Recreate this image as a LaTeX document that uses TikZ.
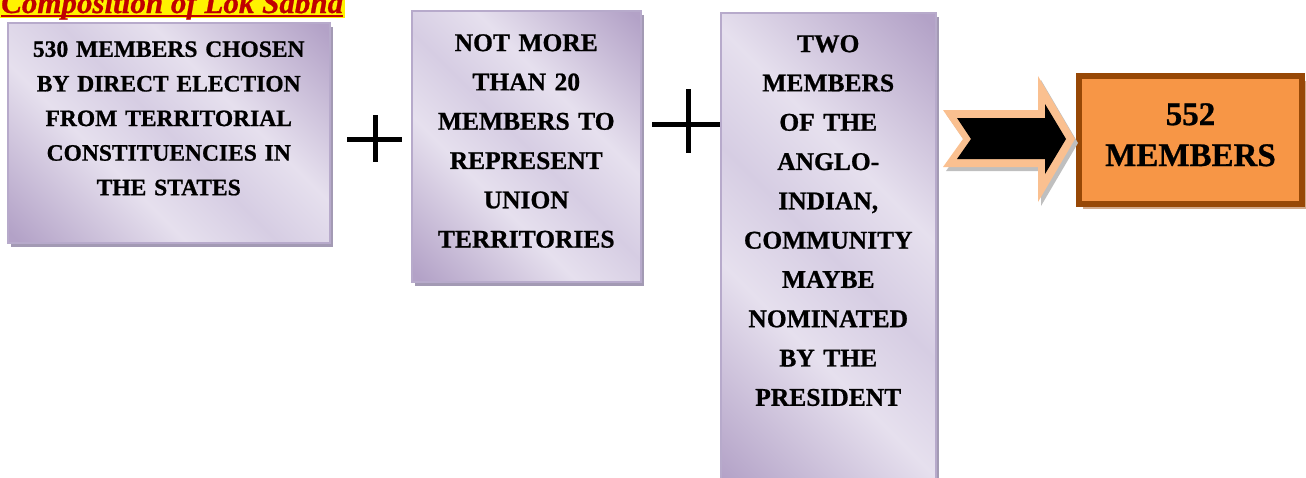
\documentclass[tikz,border=0pt]{standalone}
\usepackage{fontspec}
\setmainfont{Liberation Serif}[BoldFeatures={FakeBold=0.8}, BoldItalicFeatures={FakeBold=0.8}]
\usetikzlibrary{positioning,calc,shadows,backgrounds}

\definecolor{lavdark}{HTML}{B3A2C7}
\definecolor{lavlight}{HTML}{E6E0EE}
\definecolor{lavmid}{HTML}{D6CDE3}
\definecolor{lavline}{HTML}{B7AACB}
\definecolor{lavshadow}{HTML}{A39AB4}
\definecolor{peach}{HTML}{FAC090}
\definecolor{sumfill}{HTML}{F79646}
\definecolor{sumline}{HTML}{974806}
\definecolor{sumshadow}{HTML}{D2AA8C}
\definecolor{titlered}{HTML}{C00000}

\pgfdeclarehorizontalshading{lavender}{100bp}{color(0bp)=(lavdark); color(16bp)=(lavdark); color(38bp)=(lavlight); color(50bp)=(lavmid); color(62bp)=(lavlight); color(84bp)=(lavdark); color(100bp)=(lavdark)}

\begin{document}
\begin{tikzpicture}[
    x=1pt, y=-1pt,
    lbox/.style={rectangle, draw=lavline, line width=1.5pt, shade, shading=lavender, shading angle=45, anchor=north west,
        drop shadow={shadow xshift=3pt, shadow yshift=-4pt, fill=lavshadow, opacity=1}},
    ltext/.style={text width=#1, align=center, inner sep=0pt, font=\bfseries\fontsize{25.5}{39.3}\selectfont},
    sumbox/.style={rectangle, fill=sumfill, draw=sumline, line width=6pt, anchor=north west,
        drop shadow={shadow xshift=4pt, shadow yshift=-5pt, fill=sumshadow, opacity=1}},
    sumtext/.style={text width=220pt, align=center, inner sep=0pt, font=\bfseries\fontsize{33}{41}\selectfont},
    plussign/.style={line width=5pt}
]
    \useasboundingbox (0,0) rectangle (1306,477);

    % Title
    \node[anchor=base west, inner sep=0pt, text=titlered, font=\bfseries\itshape\fontsize{31}{36}\selectfont] (title) at (1,13) {Composition of Lok Sabha};
    \draw[titlered, line width=2pt] ([yshift=-2.5pt]title.base west) -- ([yshift=-2.5pt]title.base east);
    \begin{scope}[on background layer]
        \fill[yellow] (0,0) rectangle ([xshift=2pt, yshift=-5pt]title.base east);
    \end{scope}

    % Member boxes
    \node[lbox, minimum width=322pt, minimum height=220pt] (elected) at (7,22) {};
    \node[lbox, minimum width=229pt, minimum height=271pt] (union) at (411,10) {};
    \node[lbox, minimum width=215pt, minimum height=480pt] (nominated) at (720,12) {};

    \node[ltext=320pt, font=\bfseries\fontsize{23.5}{34.6}\selectfont, below=19pt of elected.north] (electedtext)
        {530 MEMBERS CHOSEN\\BY DIRECT ELECTION\\FROM TERRITORIAL\\CONSTITUENCIES IN\\THE STATES};
    \node[ltext=228pt, below=24pt of union.north] (uniontext)
        {NOT MORE\\THAN 20\\MEMBERS TO\\REPRESENT\\UNION\\TERRITORIES};
    \node[ltext=214pt, below=23pt of nominated.north] (nominatedtext)
        {TWO\\MEMBERS\\OF THE\\ANGLO-\\INDIAN,\\COMMUNITY\\MAYBE\\NOMINATED\\BY THE\\PRESIDENT};

    % Plus signs
    \coordinate (plusA) at (375,139);
    \coordinate (plusB) at (687,124);
    \draw[plussign] ([xshift=-28pt]plusA) -- ([xshift=27pt]plusA);
    \draw[plussign] ([yshift=24pt]plusA) -- ([yshift=-23pt]plusA);
    \draw[plussign] ([xshift=-35pt]plusB) -- (nominated.west |- plusB);
    \draw[plussign] ([xshift=1pt, yshift=35pt]plusB) -- ([xshift=1pt, yshift=-29pt]plusB);

    % Result
    \node[sumbox, minimum width=223pt, minimum height=128pt] (total) at (1076,73) {};
    \node[sumtext, below=30pt of total.north] (totaltext) {552\\MEMBERS};

    % Big arrow
    \fill[black!25] (946,114) -- (1041,114) -- (1041,80) -- (1078,143) -- (1041,206) -- (1041,171) -- (946,171) -- (966,143) -- cycle;
    \fill[peach] (943,110) -- (1038,110) -- (1038,76) -- (1075,139) -- (1038,202) -- (1038,167) -- (943,167) -- (963,139) -- cycle;
    \fill[black] (957,118) -- (1045,118) -- (1045,104) -- (1066,139) -- (1045,174) -- (1045,159) -- (957,159) -- (971,139) -- cycle;
\end{tikzpicture}
\end{document}
